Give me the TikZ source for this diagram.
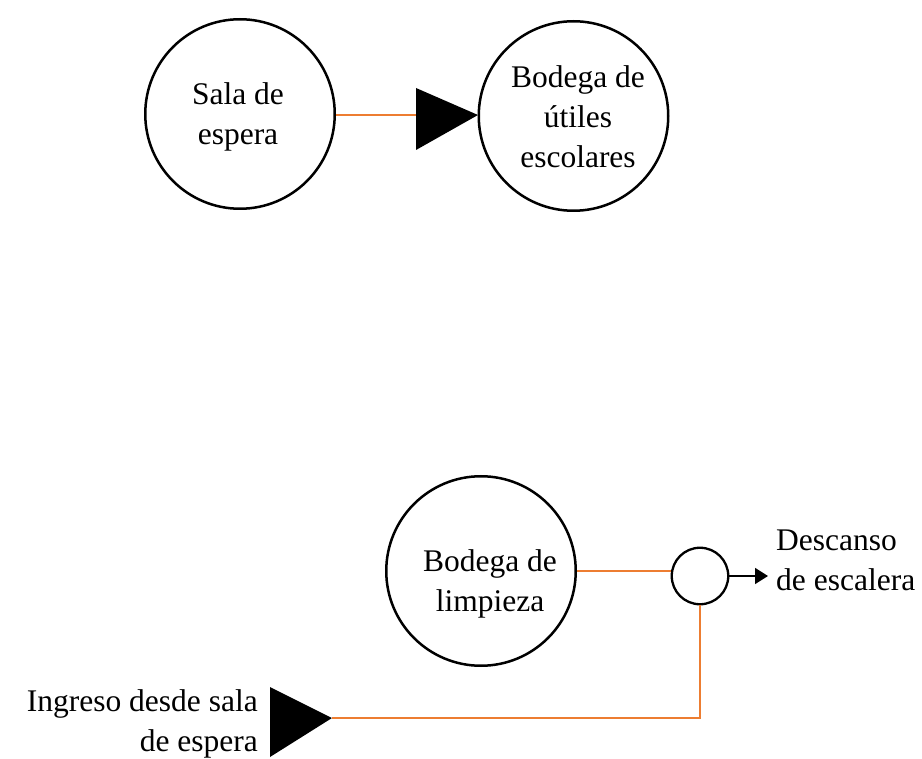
\documentclass[tikz,border=0pt]{standalone}
\usepackage{fontspec}
\setmainfont{Liberation Serif}
\usetikzlibrary{arrows.meta}
\definecolor{linkorange}{HTML}{ED7D31}
\begin{document}
\begin{tikzpicture}[x=1pt,y=-1pt,
  bigc/.style={circle,draw=black,line width=2.5pt,minimum size=189.5pt,inner sep=0pt},
  smallc/.style={circle,draw=black,line width=2.3pt,minimum size=56.5pt,inner sep=0pt},
  txt/.style={font=\fontsize{31.5}{40}\selectfont,align=center,inner sep=0pt},
  oline/.style={draw=linkorange,line width=2.6pt},
  tri/.style={fill=black}]
\useasboundingbox (0,0) rectangle (922,759);
% top row
\node[bigc] (sala) at (240,114) {};
\node[bigc] (bod) at (573.5,116) {};
\node[txt] (salat) at (238,117) {Sala de\\espera};
\node[txt] (bodt) at (578,117) {Bodega de\\útiles\\escolares};
\coordinate (t1l) at (416,115);
\coordinate (t1tip) at (478,115);
\fill[tri] (416,88) -- (t1tip) -- (416,150) -- cycle;
\draw[oline] (sala.east |- t1l) -- (t1l);
% bottom row
\node[bigc] (limp) at (481,571) {};
\node[txt] (limpt) at (490,583.5) {Bodega de\\limpieza};
\node[smallc] (sc) at (700,576) {};
\coordinate (arrend) at (768,576);
\draw[line width=1.6pt,-{Triangle[length=13pt,width=16pt]}] (sc.east) -- (arrend);
\node[txt,align=left,anchor=west] (desc) at (776,560) {Descanso\\de escalera};
\draw[oline] (limp.east) -- (limp.east -| sc.west);
\coordinate (t2tip) at (332,718);
\fill[tri] (270,687) -- (t2tip) -- (270,757) -- cycle;
\draw[oline] (t2tip) -| (sc.south);
\node[txt,align=right,anchor=east] (ingr) at (258,723.5) {Ingreso desde sala\\de espera};
\end{tikzpicture}
\end{document}
